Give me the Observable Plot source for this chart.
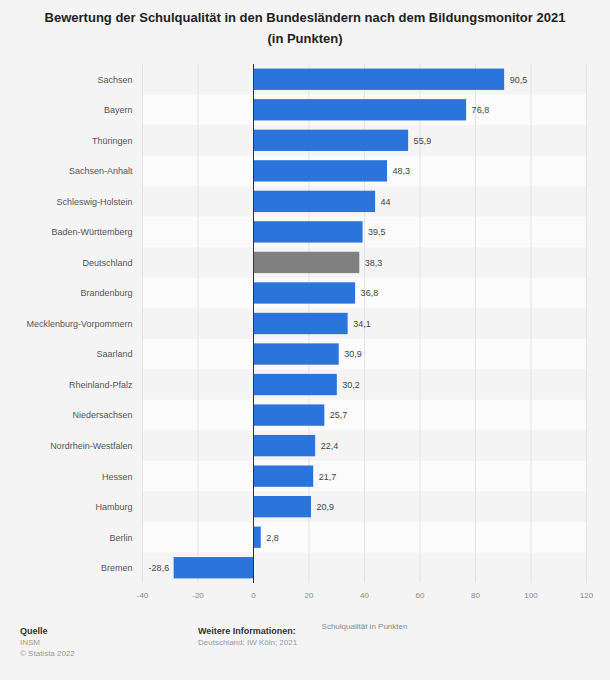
<!DOCTYPE html>
<html>
<head>
<meta charset="utf-8">
<script src="https://cdn.jsdelivr.net/npm/d3@7"></script>
<script src="https://cdn.jsdelivr.net/npm/@observablehq/plot@0.6"></script>
<style>
  html, body { margin: 0; padding: 0; background: #f4f4f4; }
  #wrap { position: relative; width: 610px; height: 680px; font-family: "Liberation Sans", Arial, sans-serif; }
  #title { height: 56px; box-sizing: border-box; padding-top: 7px; text-align: center; font-weight: bold; font-size: 13px; line-height: 21px; color: #222; }
  #chart svg { display: block; }
  #footer { position: absolute; top: 626px; left: 0; width: 610px; font-size: 8px; line-height: 11px; color: #999; }
  #footer .col { position: absolute; top: 0; }
  #footer b { color: #333; font-size: 9px; font-weight: bold; }
</style>
</head>
<body>
<div id="wrap">
  <div id="title">Bewertung der Schulqualität in den Bundesländern nach dem Bildungsmonitor 2021<br>(in Punkten)</div>
  <div id="chart"></div>
  <div id="footer">
    <div class="col" style="left:20px"><b>Quelle</b><br>INSM<br>© Statista 2022</div>
    <div class="col" style="left:198px"><b>Weitere Informationen:</b><br>Deutschland; IW Köln; 2021</div>
  </div>
</div>
<script>
const states = ["Sachsen","Bayern","Thüringen","Sachsen-Anhalt","Schleswig-Holstein","Baden-Württemberg","Deutschland","Brandenburg","Mecklenburg-Vorpommern","Saarland","Rheinland-Pfalz","Niedersachsen","Nordrhein-Westfalen","Hessen","Hamburg","Berlin","Bremen"];
const values = [90.5,76.8,55.9,48.3,44,39.5,38.3,36.8,34.1,30.9,30.2,25.7,22.4,21.7,20.9,2.8,-28.6];
const xTicks = [-40,-20,0,20,40,60,80,100,120];

const data = states.map((s, i) => ({state: s, value: values[i], idx: i}));
const stripes = data.filter(d => d.idx % 2 === 1);
const pos = data.filter(d => d.value >= 0);
const neg = data.filter(d => d.value < 0);
const fmt = v => String(v).replace(".", ",");

const chart = Plot.plot({
  width: 610,
  height: 590,
  marginTop: 8,
  marginBottom: 63,
  marginLeft: 142,
  marginRight: 24,
  style: {background: "transparent", fontFamily: "Liberation Sans, Arial, sans-serif", fontSize: "9px"},
  x: {domain: [-40, 120], ticks: xTicks, label: "Schulqualität in Punkten"},
  y: {domain: states, label: null, padding: 0, round: false},
  marks: [
    Plot.barX(stripes, {y: "state", x1: -40, x2: 120, fill: "#fbfbfb"}),
    Plot.gridX(xTicks, {stroke: "#e3e3e3", strokeOpacity: 1, strokeWidth: 1}),
    Plot.barX(data, {y: "state", x: "value", insetTop: 4.6, insetBottom: 4.6, fill: d => d.state === "Deutschland" ? "#808080" : "#2a74db"}),
    Plot.ruleX([0], {stroke: "#333", strokeWidth: 1}),
    Plot.text(pos, {y: "state", x: "value", text: d => fmt(d.value), dx: 5, textAnchor: "start", fill: "#444", fontSize: 9}),
    Plot.text(neg, {y: "state", x: "value", text: d => fmt(d.value), dx: -5, textAnchor: "end", fill: "#444", fontSize: 9}),
    Plot.axisX({ticks: xTicks, tickFormat: d => String(d), tickSize: 0, tickPadding: 9, fill: "#888", fontSize: 8, label: "Schulqualität in Punkten", labelAnchor: "center", labelOffset: 45, labelArrow: "none"}),
    Plot.axisY({tickSize: 0, tickPadding: 10, fill: "#555", fontSize: 9, label: null})
  ]
});
document.getElementById("chart").appendChild(chart);
</script>
</body>
</html>
